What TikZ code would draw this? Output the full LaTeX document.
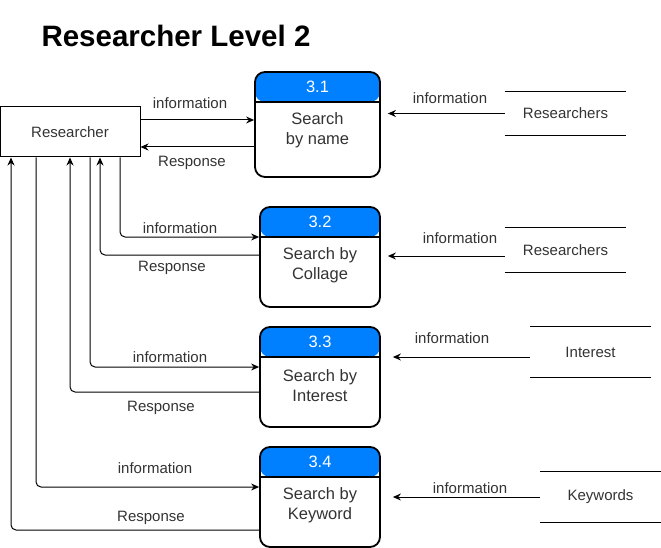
\documentclass[tikz,border=0pt]{standalone}
\usepackage{fontspec}
\setmainfont{Liberation Sans}
\usetikzlibrary{arrows.meta}
\definecolor{hdrblue}{RGB}{0,128,255}
\definecolor{txtgray}{RGB}{51,51,51}

\begin{document}
\begin{tikzpicture}[x=1pt, y=-1pt]
  \tikzstyle{ent} = [draw, line width=1pt, minimum width=140pt, minimum height=50pt, text=txtgray, font=\fontsize{15}{18}\selectfont]
  \tikzstyle{proc} = [draw, line width=1.8pt, rounded corners=10pt, minimum width=120pt, minimum height=100pt, inner sep=0pt,
    path picture={\fill[hdrblue] (path picture bounding box.north west) rectangle ([yshift=-30pt]path picture bounding box.north east);
      \draw[line width=1.8pt] ([yshift=-30pt]path picture bounding box.north west) -- ([yshift=-30pt]path picture bounding box.north east);}]
  \tikzstyle{pnum} = [text=white, font=\fontsize{16.5}{20}\selectfont]
  \tikzstyle{ptxt} = [align=center, text=txtgray, font=\fontsize{16.5}{20}\selectfont]
  \tikzstyle{store} = [minimum width=121pt, inner sep=0pt, text=txtgray, font=\fontsize{15}{18}\selectfont]
  \tikzstyle{lbl} = [text=txtgray, inner sep=1pt, font=\fontsize{15}{18}\selectfont]
  \tikzstyle{flow} = [->, >={Stealth[length=8pt, width=7pt]}, line width=1pt, rounded corners=5pt]
  \useasboundingbox (0,0) rectangle (661,548);

  \node[anchor=base west, font=\bfseries\fontsize{29.5}{34}\selectfont] (title) at (38,47) {Researcher Level 2};

  % external entity
  \node[ent] (res) at (70,132) {Researcher};

  % processes
  \node[proc, minimum width=125pt, minimum height=105pt] (p1) at (317.5,124.5) {};
  \node[proc] (p2) at (320,257) {};
  \node[proc] (p3) at (320,377) {};
  \node[proc] (p4) at (320,497) {};
  \node[pnum] (p1num) at ([yshift=-16pt]p1.north) {3.1};
  \node[pnum] (p2num) at ([yshift=-15.5pt]p2.north) {3.2};
  \node[pnum] (p3num) at ([yshift=-15.5pt]p3.north) {3.3};
  \node[pnum] (p4num) at ([yshift=-15.5pt]p4.north) {3.4};
  \node[ptxt] (p1txt) at ([yshift=-59pt]p1.north) {Search\\by name};
  \node[ptxt] (p2txt) at ([yshift=-59pt]p2.north) {Search by\\Collage};
  \node[ptxt] (p3txt) at ([yshift=-59pt]p3.north) {Search by\\Interest};
  \node[ptxt] (p4txt) at ([yshift=-59pt]p4.north) {Search by\\Keyword};

  % data stores
  \node[store, minimum height=43pt] (ds1) at (565.5,113.5) {Researchers};
  \node[store, minimum height=44pt] (ds2) at (565.5,250) {Researchers};
  \node[store, minimum height=50pt] (ds3) at (590.5,352) {Interest};
  \node[store, minimum height=50pt] (ds4) at (600.5,497) {Keywords};
  \foreach \s in {ds1, ds2, ds3, ds4} {
    \draw[line width=1pt] (\s.north west) -- (\s.north east);
    \draw[line width=1pt] (\s.south west) -- (\s.south east);
  }

  % flows researcher <-> processes
  \draw[flow] ([yshift=12pt]res.east) -- (p1.west |- 0,120);
  \draw[flow] (p1.west |- 0,147) -- ([yshift=-15pt]res.east);
  \draw[flow] ([xshift=50pt]res.south) |- (p2.west |- 0,237);
  \draw[flow] (p2.west |- 0,255) -| ([xshift=30pt]res.south);
  \draw[flow] ([xshift=20pt]res.south) |- (p3.west |- 0,367);
  \draw[flow] (p3.west |- 0,392) -| (res.south);
  \draw[flow] ([xshift=-34pt]res.south) |- (p4.west |- 0,487);
  \draw[flow] (p4.west |- 0,530) -| ([xshift=-59pt]res.south);
  \node[lbl] (i1) at (190,103) {information};
  \node[lbl] (r1) at (192,163) {Response};
  \node[lbl] (i2) at (180,228) {information};
  \node[lbl] (r2) at (172,268) {Response};
  \node[lbl] (i3) at (170,357) {information};
  \node[lbl] (r3) at (161,408) {Response};
  \node[lbl] (i4) at (155,468) {information};
  \node[lbl] (r4) at (151,518) {Response};

  % flows stores -> processes
  \draw[flow] (ds1.west) -- ([xshift=7pt]p1.east |- ds1.west);
  \draw[flow] ([yshift=-6pt]ds2.west) -- ([xshift=7pt]p2.east |- 0,256);
  \draw[flow] ([yshift=-5pt]ds3.west) -- ([xshift=12pt]p3.east |- 0,357);
  \draw[flow] (ds4.west) -- ([xshift=12pt]p4.east |- ds4.west);
  \node[lbl] (i5) at (450,98) {information};
  \node[lbl] (i6) at (460,238) {information};
  \node[lbl] (i7) at (452,338) {information};
  \node[lbl] (i8) at (470,488) {information};
\end{tikzpicture}
\end{document}
